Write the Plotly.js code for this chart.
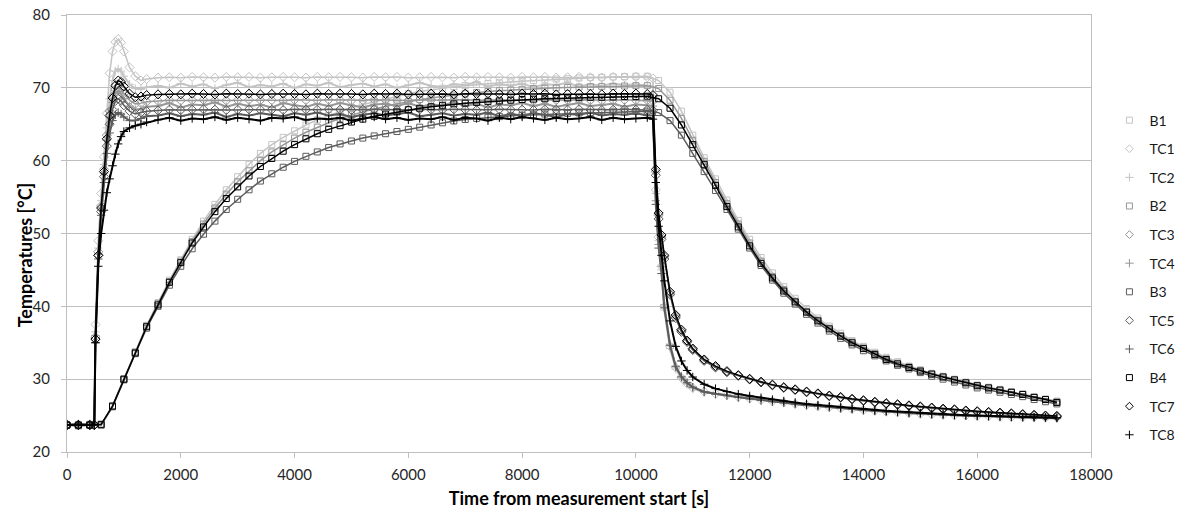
<!DOCTYPE html>
<html><head><meta charset="utf-8">
<script src="https://cdn.plot.ly/plotly-3.0.1.min.js"></script>
<style>html,body{margin:0;padding:0;background:#fff}#chart{width:1192px;height:513px}</style>
</head><body><div id="chart"></div>
<script>
// time grid for the B series [s]
const tB = [0,200,400,600,800,1000,1200,1400,1600,1800,2000,2200,2400,2600,2800,3000,3200,3400,3600,3800,
  4000,4200,4400,4600,4800,5000,5200,5400,5600,5800,6000,6200,6400,6600,6800,7000,7200,7400,7600,7800,
  8000,8200,8400,8600,8800,9000,9200,9400,9600,9800,10000,10200,10400,10600,10800,11000,11200,11400,11600,11800,
  12000,12200,12400,12600,12800,13000,13200,13400,13600,13800,14000,14200,14400,14600,14800,15000,15200,15400,15600,15800,
  16000,16200,16400,16600,16800,17000,17200,17400];
// time grid for the TC series [s]
const tTC = [0,200,400,480,500,550,600,650,700,750,800,850,900,950,1000,1100,1200,1300,1400,
  1600,1800,2000,2200,2400,2600,2800,3000,3200,3400,3600,3800,4000,4200,4400,4600,4800,5000,5200,5400,
  5600,5800,6000,6200,6400,6600,6800,7000,7200,7400,7600,7800,8000,8200,8400,8600,8800,9000,9200,9400,
  9600,9800,10000,10200,10300,10350,10400,10450,10500,10600,10700,10800,10900,11000,
  11200,11400,11600,11800,12000,12200,12400,12600,12800,13000,13200,13400,13600,13800,14000,14200,14400,14600,14800,15000,
  15200,15400,15600,15800,16000,16200,16400,16600,16800,17000,17200,17400];

const B1 = [23.7,23.8,23.7,23.8,
  26.4,30.1,33.8,37.4,40.5,43.6,46.4,49.2,51.7,54.0,
  56.0,57.8,59.5,61.0,62.2,63.2,64.1,64.9,65.6,66.2,
  66.8,67.3,67.7,68.1,68.5,68.9,69.2,69.5,69.75,69.95,
  70.15,70.3,70.45,70.6,70.7,70.8,70.9,71.0,71.1,71.2,
  71.25,71.35,71.4,71.45,71.5,71.55,71.6,71.6,
  71.0,69.4,66.8,63.5,60.4,57.5,54.6,51.8,49.2,46.7,
  44.6,42.7,41.1,39.7,38.4,37.3,36.3,35.3,34.5,33.7,
  33.0,32.4,31.8,31.3,30.8,30.4,30.0,29.6,29.2,28.9,
  28.6,28.3,28.0,27.6,27.3,27.0];
const B2 = [23.7,23.7,23.8,23.7,
  26.3,30.0,33.7,37.3,40.4,43.4,46.2,48.9,51.3,53.5,
  55.4,57.1,58.6,60.0,61.2,62.2,63.1,63.9,64.6,65.2,
  65.8,66.3,66.7,67.1,67.5,67.8,68.1,68.4,68.6,68.8,
  69.0,69.2,69.35,69.5,69.6,69.7,69.8,69.9,69.95,70.0,
  70.05,70.1,70.15,70.2,70.2,70.25,70.3,70.3,
  69.9,68.3,65.8,62.8,59.9,57.0,54.1,51.3,48.7,46.2,
  44.1,42.3,40.7,39.3,38.1,37.0,36.0,35.1,34.3,33.5,
  32.8,32.2,31.7,31.2,30.7,30.3,29.9,29.5,29.1,28.8,
  28.5,28.2,27.9,27.5,27.2,26.9];
const B3 = [23.7,23.6,23.7,23.7,
  26.2,29.9,33.5,37.0,40.0,42.9,45.5,47.9,49.9,51.7,
  53.3,54.7,56.0,57.2,58.2,59.1,59.9,60.6,61.2,61.8,
  62.3,62.7,63.1,63.4,63.7,64.0,64.3,64.6,64.9,65.2,
  65.45,65.65,65.8,65.95,66.05,66.15,66.25,66.3,66.4,66.45,
  66.5,66.55,66.6,66.65,66.7,66.7,66.75,66.8,
  66.6,65.5,63.5,61.0,58.5,55.9,53.3,50.6,48.0,45.6,
  43.6,41.8,40.3,38.9,37.7,36.6,35.6,34.7,33.9,33.2,
  32.5,31.9,31.4,30.9,30.4,30.0,29.6,29.2,28.8,28.5,
  28.2,27.9,27.6,27.2,26.9,26.6];
const B4 = [23.7,23.7,23.7,23.8,
  26.3,30.0,33.6,37.2,40.2,43.3,46.0,48.7,50.9,53.0,
  54.8,56.4,57.9,59.2,60.3,61.3,62.2,63.0,63.7,64.3,
  64.8,65.3,65.7,66.1,66.4,66.7,67.0,67.2,67.4,67.6,
  67.8,67.9,68.0,68.1,68.2,68.3,68.4,68.45,68.5,68.55,
  68.6,68.65,68.7,68.7,68.75,68.8,68.8,68.85,
  68.5,67.2,64.9,62.2,59.5,56.6,53.7,50.9,48.3,45.9,
  43.9,42.1,40.6,39.2,38.0,36.9,35.9,35.0,34.2,33.4,
  32.7,32.1,31.6,31.1,30.7,30.3,29.9,29.5,29.1,28.8,
  28.5,28.2,27.9,27.5,27.2,26.8];

const TC1 = [23.8,23.8,23.8,23.8,
  37.5,49.0,55.5,60.5,66.5,72.0,75.0,76.3,76.7,76.2,75.0,72.8,71.6,71.0,71.2,
  71.4,71.45,71.4,71.5,71.45,71.4,71.5,71.45,71.5,71.4,71.45,
  71.5,71.45,71.4,71.5,71.45,71.5,71.45,71.4,71.5,71.45,71.5,
  71.4,71.45,71.5,71.45,71.4,71.5,71.45,71.5,71.45,71.4,71.5,
  71.45,71.5,71.4,71.45,71.5,71.45,71.4,71.5,71.45,71.5,71.45,
  71.3,56.0,49.5,45.5,40.0,34.5,31.6,30.2,29.4,28.8,
  28.3,28.0,27.8,27.55,27.35,27.15,26.95,26.8,26.6,26.45,26.3,26.15,26.0,25.9,25.75,25.65,
  25.55,25.45,25.35,25.25,25.15,25.1,25.05,25.0,24.95,24.9,24.85,24.8,24.8,24.75,24.7,24.7];
const TC2 = [23.7,23.8,23.7,23.8,
  36.5,48.0,54.5,59.5,64.5,68.5,71.0,72.3,72.6,72.3,71.6,70.5,69.9,69.8,70.1,
  70.3,70.0,70.6,70.2,70.5,69.9,70.4,70.7,70.1,70.4,70.2,
  70.6,70.0,70.5,70.3,70.7,70.1,70.4,70.6,70.2,70.5,70.0,
  70.4,70.7,70.3,70.1,70.5,70.4,70.8,70.2,70.5,70.3,70.6,
  70.1,70.5,70.4,70.7,70.2,70.5,70.3,70.6,70.4,70.5,70.3,
  70.2,55.5,49.0,45.0,39.5,34.2,31.4,30.1,29.3,28.7,
  28.2,28.0,27.7,27.6,27.3,27.2,26.9,26.8,26.6,26.5,26.3,26.2,26.0,25.9,25.8,25.6,
  25.6,25.4,25.4,25.2,25.2,25.1,25.1,25.0,25.0,24.9,24.9,24.8,24.8,24.7,24.7,24.7];
const TC3 = [23.7,23.7,23.7,23.7,
  35.8,47.5,53.8,58.8,63.5,66.8,68.8,69.8,70.1,69.8,69.2,68.3,67.8,67.9,68.1,
  68.2,68.3,68.25,68.3,68.35,68.3,68.25,68.3,68.35,68.3,68.3,
  68.25,68.35,68.3,68.3,68.35,68.3,68.25,68.3,68.35,68.3,68.3,
  68.25,68.35,68.3,68.3,68.35,68.3,68.25,68.3,68.35,68.3,68.3,
  68.25,68.35,68.3,68.3,68.35,68.3,68.25,68.3,68.35,68.3,68.3,
  68.2,58.5,52.5,49.5,46.8,41.8,38.6,36.7,35.2,34.1,
  32.6,31.7,31.0,30.5,30.0,29.6,29.2,28.85,28.55,28.25,28.0,27.7,27.5,27.25,27.05,26.85,
  26.65,26.5,26.35,26.2,26.05,25.9,25.8,25.65,25.55,25.45,25.35,25.25,25.15,25.05,24.95,24.9];
const TC4 = [23.7,23.6,23.7,23.7,
  36.0,47.2,53.5,58.3,62.8,66.0,68.0,69.2,69.5,69.2,68.5,67.5,67.0,67.1,67.4,
  67.5,67.9,67.3,67.7,67.6,68.0,67.4,67.8,67.5,67.7,67.3,
  67.9,67.6,67.4,67.8,67.5,67.9,67.6,67.3,67.7,67.8,67.5,
  67.9,67.4,67.7,67.6,68.0,67.5,67.8,67.3,67.7,67.6,67.9,
  67.5,67.8,67.4,67.7,67.9,67.5,67.6,67.8,67.4,67.7,67.6,
  67.5,54.5,48.5,45.5,40.2,34.8,31.8,30.4,29.5,28.9,
  28.3,28.0,27.8,27.5,27.4,27.1,27.0,26.8,26.6,26.4,26.3,26.1,26.0,25.9,25.7,25.7,
  25.5,25.5,25.3,25.3,25.2,25.1,25.0,25.0,24.9,24.9,24.8,24.8,24.7,24.7,24.7,24.6];
const TC5 = [23.7,23.7,23.7,23.7,
  35.5,47.0,53.0,57.8,62.0,65.0,67.0,68.2,68.5,68.2,67.6,66.8,66.4,66.6,66.8,
  66.9,67.0,66.95,67.0,67.05,67.0,66.95,67.0,67.05,67.0,67.0,
  66.95,67.05,67.0,67.0,67.05,67.0,66.95,67.0,67.05,67.0,67.0,
  66.95,67.05,67.0,67.0,67.05,67.0,66.95,67.0,67.05,67.0,67.0,
  66.95,67.05,67.0,67.0,67.05,67.0,66.95,67.0,67.05,67.0,67.0,
  66.9,58.0,52.0,49.2,46.5,41.6,38.4,36.5,35.1,34.0,
  32.5,31.6,30.95,30.45,29.95,29.55,29.15,28.8,28.5,28.2,27.95,27.65,27.45,27.2,27.0,26.8,
  26.6,26.45,26.3,26.15,26.0,25.85,25.75,25.6,25.5,25.4,25.3,25.2,25.1,25.0,24.9,24.85];
const TC6 = [23.7,23.7,23.7,23.7,
  35.0,46.5,52.5,57.0,61.0,63.8,65.5,66.3,66.6,66.4,66.0,65.5,65.5,65.8,66.1,
  66.2,66.5,66.1,66.4,66.3,66.6,66.0,66.4,66.2,66.5,66.3,
  66.1,66.5,66.3,66.6,66.2,66.4,66.0,66.3,66.5,66.2,66.4,
  66.6,66.1,66.3,66.5,66.2,66.4,66.3,66.6,66.1,66.4,66.2,
  66.5,66.3,66.0,66.4,66.3,66.6,66.2,66.4,66.3,66.5,66.2,
  66.2,54.0,48.0,44.5,39.8,34.6,31.7,30.3,29.5,28.9,
  28.25,27.95,27.75,27.5,27.3,27.1,26.9,26.75,26.6,26.45,26.3,26.15,26.0,25.9,25.75,25.65,
  25.55,25.45,25.35,25.25,25.15,25.1,25.05,25.0,24.95,24.9,24.85,24.8,24.8,24.75,24.7,24.7];
const TC7 = [23.7,23.7,23.7,23.7,
  35.5,47.0,53.5,58.5,63.0,66.2,68.6,70.3,71.0,70.8,70.2,69.2,68.7,68.8,69.0,
  69.1,69.15,69.1,69.2,69.15,69.1,69.2,69.15,69.2,69.1,69.15,
  69.2,69.15,69.1,69.2,69.15,69.2,69.15,69.1,69.2,69.15,69.2,
  69.1,69.15,69.2,69.15,69.1,69.2,69.15,69.2,69.15,69.1,69.2,
  69.15,69.2,69.1,69.15,69.2,69.15,69.1,69.2,69.15,69.2,69.15,
  69.0,58.8,52.8,49.8,47.0,42.0,38.8,36.8,35.3,34.2,
  32.7,31.8,31.1,30.55,30.05,29.65,29.25,28.9,28.6,28.3,28.05,27.75,27.55,27.3,27.1,26.9,
  26.7,26.55,26.4,26.25,26.1,25.95,25.85,25.7,25.6,25.5,25.4,25.3,25.2,25.1,25.0,24.95];
const TC8 = [23.7,23.8,23.7,23.7,
  35.0,45.5,50.0,53.2,55.6,57.5,59.3,60.9,62.3,63.3,64.0,64.5,64.8,65.0,65.3,
  65.6,65.9,65.5,65.8,65.7,66.0,65.6,65.9,65.7,65.5,65.9,
  65.8,66.0,65.6,65.8,65.7,65.9,65.5,65.8,66.0,65.7,65.9,
  65.6,65.8,65.7,66.0,65.6,65.9,65.8,65.5,65.9,65.7,66.0,
  65.8,65.6,65.9,65.7,65.8,66.0,65.6,65.9,65.7,65.8,65.9,
  65.7,57.0,51.0,47.0,43.5,38.0,34.5,32.5,31.2,30.3,
  29.3,28.7,28.3,27.95,27.7,27.45,27.2,27.0,26.8,26.6,26.45,26.3,26.15,26.0,25.9,25.75,
  25.65,25.55,25.45,25.35,25.25,25.2,25.1,25.05,25.0,24.95,24.9,24.85,24.8,24.8,24.75,24.7];

const seriesNames = ['B1','TC1','TC2','B2','TC3','TC4','B3','TC5','TC6','B4','TC7','TC8'];
const seriesData = {B1,TC1,TC2,B2,TC3,TC4,B3,TC5,TC6,B4,TC7,TC8};

const groupColors = ['#c4c4c4','#969696','#5c5c5c','#000000'];
const symbolFor = n => n[0] === 'B' ? 'square-open' : (parseInt(n.slice(2)) % 2 === 1 ? 'diamond-open' : 'cross-thin-open');
const sizeFor = s => s === 'square-open' ? 6 : (s === 'diamond-open' ? 7 : 6);
const FONT = 'Lato, "Open Sans", "Liberation Sans", sans-serif';

const traces = [];
const legendTraces = [];
seriesNames.forEach((name, i) => {
  const color = groupColors[Math.floor(i / 3)];
  const x = name[0] === 'B' ? tB : tTC;
  const y = seriesData[name];
  if (x.length !== y.length) throw new Error(name + ' length ' + y.length + ' vs ' + x.length);
  const sym = symbolFor(name);
  traces.push({
    type: 'scatter', mode: 'lines+markers', name: name, x: x, y: y,
    legendgroup: name, showlegend: false,
    line: {color: color, width: sym === 'cross-thin-open' ? 2 : 1.5},
    marker: {symbol: sym, size: sizeFor(sym), color: color, line: {color: color, width: 1}}
  });
  legendTraces.push({
    type: 'scatter', mode: 'markers', name: name, x: [null], y: [null],
    legendgroup: name, showlegend: true, hoverinfo: 'skip',
    marker: {symbol: sym, size: 6, color: color, line: {color: color, width: 1}}
  });
});

const layout = {
  width: 1192, height: 513,
  margin: {l: 67, r: 85, t: 15, b: 61},
  paper_bgcolor: '#ffffff', plot_bgcolor: '#ffffff',
  font: {family: FONT, size: 15, color: '#262626'},
  showlegend: true,
  legend: {x: 1.018, xanchor: 'left', y: 0.795, yanchor: 'top', tracegroupgap: 7.4,
           itemwidth: 30, font: {family: FONT, size: 14, color: '#1a1a1a'}, bgcolor: 'rgba(0,0,0,0)'},
  xaxis: {
    range: [0, 18000], tick0: 0, dtick: 2000, tickformat: 'd', showgrid: false, zeroline: false,
    showline: true, linecolor: '#bfbfbf', linewidth: 1, mirror: true,
    ticks: 'outside', ticklen: 5, tickcolor: '#bfbfbf', ticklabelstandoff: 4,
    tickfont: {family: FONT, size: 15, color: '#262626'},
    title: {text: 'Time from measurement start [s]', standoff: 10,
            font: {family: FONT, size: 18, color: '#000000', weight: 'bold'}}
  },
  yaxis: {
    range: [20, 80], tick0: 20, dtick: 10, showgrid: true, gridcolor: '#bfbfbf', gridwidth: 1,
    zeroline: false, showline: true, linecolor: '#bfbfbf', linewidth: 1, mirror: true,
    ticks: 'outside', ticklen: 5, tickcolor: '#bfbfbf', ticklabelstandoff: 8,
    tickfont: {family: FONT, size: 15, color: '#262626'}
  },
  annotations: [{
    text: 'Temperatures [°C]', xref: 'paper', yref: 'paper', x: -0.041, y: 0.45,
    xanchor: 'center', yanchor: 'middle', textangle: -90, showarrow: false,
    font: {family: FONT, size: 18, color: '#000000', weight: 'bold'}
  }]
};

Plotly.newPlot('chart', traces.concat(legendTraces), layout, {displayModeBar: false, staticPlot: true});
</script>
</body></html>
